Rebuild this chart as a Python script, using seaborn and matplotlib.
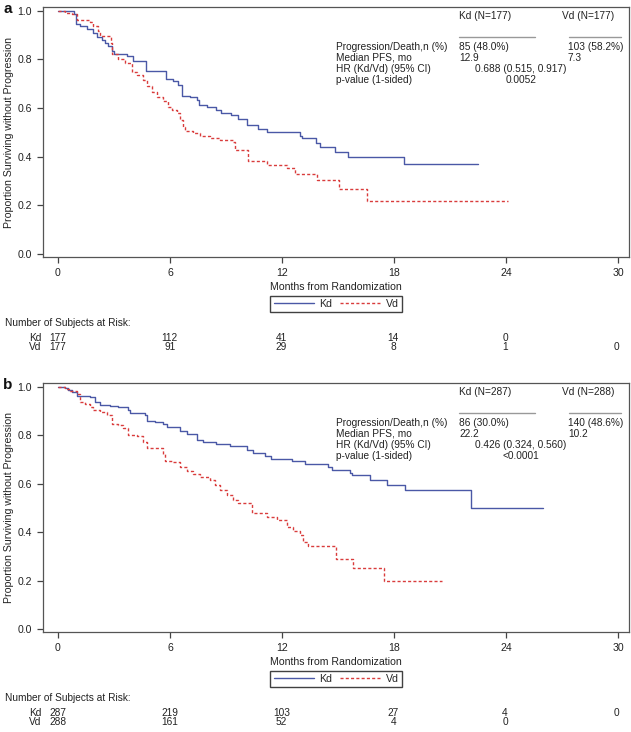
import matplotlib
matplotlib.use("Agg")
import matplotlib.pyplot as plt
from matplotlib.lines import Line2D
import seaborn as sns
import pandas as pd

# ---------------- data ----------------
months_ticks = [0, 6, 12, 18, 24, 30]
y_ticks = [0.0, 0.2, 0.4, 0.6, 0.8, 1.0]

# Panel a
a_kd_t = [0, 0.86, 0.96, 1.18, 1.57, 1.89, 2.07, 2.34, 2.52, 2.70, 2.88, 3.0, 3.68, 4.03, 4.70,
          5.77, 6.18, 6.44, 6.62, 7.07, 7.43, 7.57, 7.96, 8.45, 8.72, 9.25, 9.66, 10.12, 10.73,
          11.2, 12.96, 13.05, 13.8, 14.05, 14.84, 15.55, 18.53, 22.5]
a_kd_s = [1.0, 0.988, 0.947, 0.935, 0.925, 0.908, 0.89, 0.88, 0.867, 0.853, 0.833, 0.823, 0.812,
          0.794, 0.754, 0.718, 0.709, 0.695, 0.651, 0.645, 0.634, 0.613, 0.604, 0.592, 0.579,
          0.570, 0.555, 0.531, 0.513, 0.501, 0.484, 0.476, 0.457, 0.439, 0.421, 0.40, 0.37, 0.37]
a_vd_t = [0, 0.37, 0.73, 1.04, 1.71, 1.89, 2.16, 2.25, 2.84, 2.9, 3.23, 3.59, 3.95, 4.21, 4.57,
          4.75, 5.02, 5.29, 5.64, 5.91, 6.09, 6.36, 6.54, 6.68, 6.8, 7.25, 7.61, 8.14, 8.68,
          9.39, 9.5, 10.19, 11.18, 12.25, 12.7, 13.86, 15.07, 16.57, 24.1]
a_vd_s = [1.0, 0.99, 0.985, 0.96, 0.953, 0.935, 0.915, 0.894, 0.867, 0.82, 0.80, 0.785, 0.75,
          0.737, 0.716, 0.689, 0.667, 0.647, 0.627, 0.606, 0.59, 0.579, 0.551, 0.524, 0.506,
          0.497, 0.486, 0.476, 0.469, 0.460, 0.426, 0.383, 0.366, 0.355, 0.328, 0.305, 0.266,
          0.219, 0.219]
a_risk_kd = [177, 112, 41, 14, 0]
a_risk_vd = [177, 91, 29, 8, 1, 0]
a_stats = {"n_kd": "Kd (N=177)", "n_vd": "Vd (N=177)",
           "pd_kd": "85 (48.0%)", "pd_vd": "103 (58.2%)",
           "med_kd": "12.9", "med_vd": "7.3",
           "hr": "0.688 (0.515, 0.917)", "p": "0.0052"}

# Panel b
b_kd_t = [0, 0.37, 0.55, 0.73, 1.04, 1.71, 1.98, 2.25, 2.79, 3.23, 3.77, 3.86, 4.66, 4.75, 5.2,
          5.64, 5.82, 6.54, 6.89, 7.43, 7.78, 8.45, 9.21, 10.1, 10.46, 11.09, 11.4, 12.55, 13.25,
          14.45, 14.7, 15.64, 15.73, 16.71, 17.6, 18.6, 22.12, 25.96]
b_kd_s = [1.0, 0.995, 0.986, 0.977, 0.963, 0.959, 0.935, 0.926, 0.922, 0.915, 0.904, 0.89,
          0.881, 0.86, 0.853, 0.844, 0.833, 0.815, 0.805, 0.778, 0.771, 0.763, 0.754, 0.739,
          0.728, 0.712, 0.703, 0.695, 0.68, 0.669, 0.657, 0.645, 0.634, 0.616, 0.595, 0.572,
          0.499, 0.499]
b_vd_t = [0, 0.37, 0.64, 1.0, 1.18, 1.45, 1.71, 1.89, 2.25, 2.61, 2.88, 3.23, 3.5, 3.77, 4.21,
          4.57, 4.75, 5.64, 5.73, 6.18, 6.54, 6.89, 7.25, 7.61, 8.14, 8.41, 8.68, 9.04, 9.39,
          9.66, 10.37, 11.18, 11.71, 12.25, 12.61, 12.96, 13.14, 13.4, 14.9, 15.82, 17.46, 20.55]
b_vd_s = [1.0, 0.99, 0.981, 0.97, 0.935, 0.929, 0.918, 0.904, 0.894, 0.881, 0.847, 0.84, 0.83,
          0.801, 0.795, 0.771, 0.748, 0.723, 0.695, 0.688, 0.668, 0.654, 0.641, 0.627, 0.613,
          0.593, 0.572, 0.551, 0.534, 0.52, 0.479, 0.462, 0.449, 0.421, 0.403, 0.387, 0.359,
          0.343, 0.291, 0.25, 0.2, 0.2]
b_risk_kd = [287, 219, 103, 27, 4, 0]
b_risk_vd = [288, 161, 52, 4, 0]
b_stats = {"n_kd": "Kd (N=287)", "n_vd": "Vd (N=288)",
           "pd_kd": "86 (30.0%)", "pd_vd": "140 (48.6%)",
           "med_kd": "22.2", "med_vd": "10.2",
           "hr": "0.426 (0.324, 0.560)", "p": "<0.0001"}

# ---------------- style ----------------
sns.set_theme(style="ticks")
plt.rcParams["font.family"] = ["Liberation Sans", "DejaVu Sans"]
KD_COLOR = "#4a58a6"
VD_COLOR = "#d93c3c"
TXT = "#222222"
FS = 7.6
FS_STAT = 7.3
FS_RISK = 7.3

W, H = 631, 732
fig = plt.figure(figsize=(W / 100, H / 100), dpi=100)


def ftext(x, y, s, **kw):
    kw.setdefault("fontsize", FS)
    kw.setdefault("color", TXT)
    kw.setdefault("va", "center")
    fig.text(x / W, 1 - y / H, s, **kw)


def panel(top_px, bottom_px, kd_t, kd_s, vd_t, vd_s, risk_kd, risk_vd, stats, letter):
    off = top_px - 7  # vertical offset relative to panel a
    ax = fig.add_axes([43 / W, 1 - bottom_px / H, (629 - 43) / W, (bottom_px - top_px) / H])
    df_kd = pd.DataFrame({"t": kd_t, "s": kd_s})
    df_vd = pd.DataFrame({"t": vd_t, "s": vd_s})
    sns.lineplot(data=df_kd, x="t", y="s", ax=ax, color=KD_COLOR, lw=1.0,
                 drawstyle="steps-post", estimator=None, sort=False)
    sns.lineplot(data=df_vd, x="t", y="s", ax=ax, color=VD_COLOR, lw=1.0,
                 drawstyle="steps-post", estimator=None, sort=False, dashes=False,
                 linestyle=(0, (2.2, 1.6)))
    ax.set_xlim(-0.8, 30.58)
    ax.set_ylim(-0.012, 1.015)
    ax.set_xticks(months_ticks)
    ax.set_xticklabels([str(m) for m in months_ticks])
    ax.set_yticks(y_ticks)
    ax.set_yticklabels([f"{v:.1f}" for v in y_ticks])
    ax.tick_params(axis="both", labelsize=FS, colors="#444444", labelcolor=TXT,
                   length=4, width=0.9, pad=4)
    for sp in ax.spines.values():
        sp.set_color("#555555")
        sp.set_linewidth(0.9)
        sp.set_visible(True)
    ax.set_xlabel("")
    ax.set_ylabel("Proportion Surviving without Progression", fontsize=FS, color=TXT)
    ax.yaxis.set_label_coords(-0.050, 0.5)

    # panel letter
    ftext(3, top_px + 2, letter, fontsize=11, fontweight="bold", color="#111111")

    # statistics box
    y0 = 16 + off
    ftext(459, y0, stats["n_kd"], fontsize=FS_STAT)
    ftext(562, y0, stats["n_vd"], fontsize=FS_STAT)
    rows = [("Progression/Death,n (%)", stats["pd_kd"], stats["pd_vd"]),
            ("Median PFS, mo", stats["med_kd"], stats["med_vd"])]
    for i, (lab, vk, vv) in enumerate(rows):
        yy = y0 + 31 + 11 * i
        ftext(336, yy, lab, fontsize=FS_STAT)
        ftext(459, yy, vk, fontsize=FS_STAT)
        ftext(568, yy, vv, fontsize=FS_STAT)
    ftext(336, y0 + 53, "HR (Kd/Vd) (95% CI)", fontsize=FS_STAT)
    ftext(521, y0 + 53, stats["hr"], ha="center", fontsize=FS_STAT)
    ftext(336, y0 + 64, "p-value (1-sided)", fontsize=FS_STAT)
    ftext(521, y0 + 64, stats["p"], ha="center", fontsize=FS_STAT)
    for xa, xb in [(459, 535), (569, 621)]:
        fig.add_artist(Line2D([xa / W, xb / W], [1 - (y0 + 21) / H] * 2,
                              color="#999999", lw=1.0))

    # x label
    ftext(336, bottom_px + 30, "Months from Randomization", ha="center")

    # legend
    handles = [Line2D([], [], color=KD_COLOR, lw=1.0),
               Line2D([], [], color=VD_COLOR, lw=1.0, linestyle=(0, (2.2, 1.6)))]
    leg = fig.legend(handles, ["Kd", "Vd"], loc="center", ncol=2,
                     bbox_to_anchor=(336 / W, 1 - (bottom_px + 47) / H),
                     fontsize=FS, frameon=True, fancybox=False, handlelength=3.8,
                     handletextpad=0.5, columnspacing=0.8, borderpad=0.3,
                     borderaxespad=0)
    leg.get_frame().set_edgecolor("#111111")
    leg.get_frame().set_linewidth(1.0)

    # at-risk table
    ftext(5, bottom_px + 66, "Number of Subjects at Risk:", fontsize=FS_STAT)
    for row, (lab, vals) in enumerate([("Kd", risk_kd), ("Vd", risk_vd)]):
        yy = bottom_px + 81 + row * 9
        ftext(41, yy, lab, ha="right", fontsize=FS_RISK)
        for m, v in zip(months_ticks, vals):
            xx = 58 + m * 18.63
            ftext(xx, yy, str(v), ha="center", fontsize=FS_RISK)
    return ax


panel(7, 257, a_kd_t, a_kd_s, a_vd_t, a_vd_s, a_risk_kd, a_risk_vd, a_stats, "a")
panel(383, 632, b_kd_t, b_kd_s, b_vd_t, b_vd_s, b_risk_kd, b_risk_vd, b_stats, "b")

fig.savefig("out.png", dpi=100, facecolor="white")
